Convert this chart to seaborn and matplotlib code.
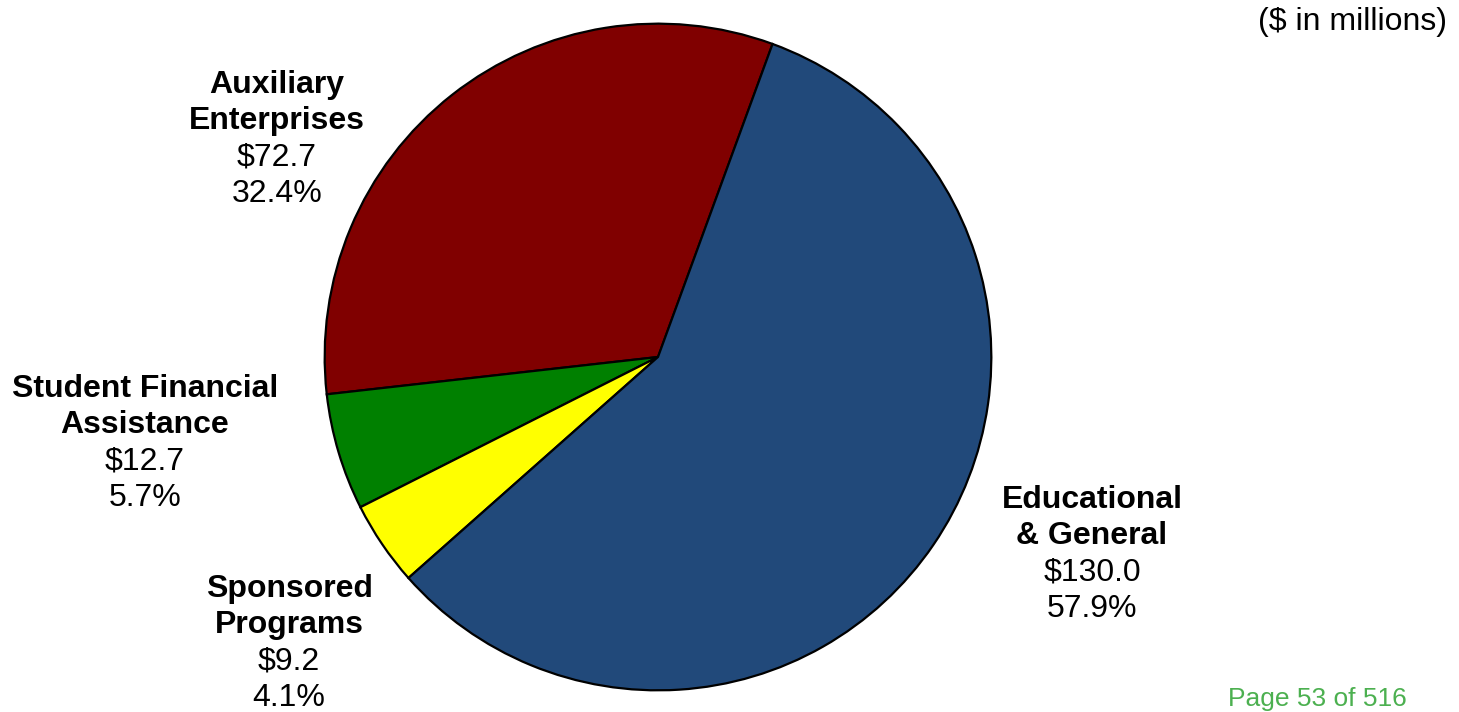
import matplotlib
matplotlib.use("Agg")
import matplotlib.pyplot as plt
import seaborn as sns

# Expenditures by fund group ($ in millions)
categories = ["Auxiliary\nEnterprises", "Student Financial\nAssistance",
              "Sponsored\nPrograms", "Educational\n& General"]
amounts = [72.7, 12.7, 9.2, 130.0]
slice_colors = ["#800000", "#008000", "#FFFF00", "#21497A"]

# Label block centres in pixels (x, y of first line)
label_pos = [(277, 85), (145, 389), (289, 589), (1092, 500)]

sns.set_theme(style="white")
plt.rcParams["font.family"] = ["Liberation Sans", "DejaVu Sans"]

W, H = 1459, 712
fig = plt.figure(figsize=(W / 100, H / 100), dpi=100)
fig.patch.set_facecolor("white")

cx, cy, r = 658, 357, 335
ax = fig.add_axes([(cx - r) / W, (H - cy - r) / H, 2 * r / W, 2 * r / H])
ax.pie(amounts, colors=slice_colors, startangle=69.9, counterclock=True,
       radius=1.0,
       wedgeprops=dict(edgecolor="black", linewidth=1.6))
ax.set_xlim(-1.005, 1.005)
ax.set_ylim(-1.005, 1.005)
ax.set_aspect("equal")
ax.axis("off")

total = sum(amounts)
line_h = 36.3
fs = 23
for name, amt, (px, py) in zip(categories, amounts, label_pos):
    lines = [(t, "bold") for t in name.split("\n")]
    lines += [(f"${amt:.1f}", "normal"), (f"{amt / total * 100:.1f}%", "normal")]
    for i, (txt, wt) in enumerate(lines):
        fig.text(px / W, 1 - (py + i * line_h) / H, txt, ha="center", va="center",
                 fontsize=fs, fontweight=wt, color="black")

fig.text(1447 / W, 1 - 22 / H, "($ in millions)", ha="right", va="center",
         fontsize=fs, color="black")
fig.text(1228 / W, 1 - 711 / H, "Page 53 of 516", ha="left", va="bottom",
         fontsize=19, color="#4CB050")

fig.savefig("out.png", dpi=100, facecolor="white")
